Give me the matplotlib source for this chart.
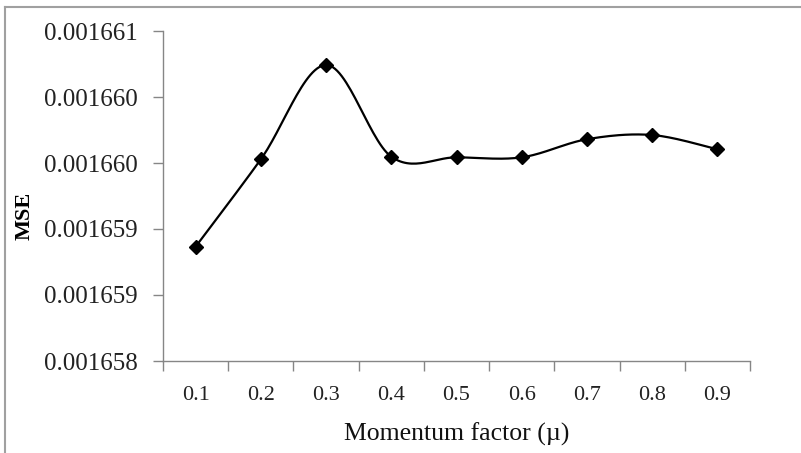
import numpy as np
import matplotlib
matplotlib.use("Agg")
import matplotlib.pyplot as plt
from matplotlib.lines import Line2D

# data
momentum = ["0.1", "0.2", "0.3", "0.4", "0.5", "0.6", "0.7", "0.8", "0.9"]
mse = [0.0016588660, 0.0016595280, 0.0016602424, 0.0016595480, 0.0016595430,
       0.0016595430, 0.0016596800, 0.0016597120, 0.0016596040]
y_ticks = [0.0016580, 0.0016585, 0.0016590, 0.0016595, 0.0016600, 0.0016605]
y_tick_labels = ["0.001658", "0.001659", "0.001659", "0.001660", "0.001660", "0.001661"]

AXIS_GREY = "#868686"
SERIF = "Liberation Serif"


def catmull_rom(px, py, steps=30):
    """Excel style smoothing: bezier segments with control points from neighbours."""
    pts = np.column_stack([px, py])
    out = [pts[0]]
    n = len(pts)
    for i in range(n - 1):
        p0 = pts[max(i - 1, 0)]
        p1 = pts[i]
        p2 = pts[i + 1]
        p3 = pts[min(i + 2, n - 1)]
        c1 = p1 + (p2 - p0) / 6.0
        c2 = p2 - (p3 - p1) / 6.0
        t = np.linspace(0, 1, steps)[1:, None]
        seg = ((1 - t) ** 3) * p1 + 3 * ((1 - t) ** 2) * t * c1 + 3 * (1 - t) * t ** 2 * c2 + t ** 3 * p2
        out.extend(seg)
    return np.array(out)


def main():
    fig = plt.figure(figsize=(8.01, 4.53), dpi=100)
    ax = fig.add_axes([163 / 801, 1 - 361 / 453, (750 - 163) / 801, (361 - 31) / 453])

    x = np.arange(len(momentum))
    ax.set_xlim(-0.5, len(momentum) - 0.5)
    ax.set_ylim(y_ticks[0], y_ticks[-1])

    # smooth the line in display space, then map back to data
    disp = ax.transData.transform(np.column_stack([x, mse]))
    curve = catmull_rom(disp[:, 0], disp[:, 1])
    curve = ax.transData.inverted().transform(curve)
    ax.plot(curve[:, 0], curve[:, 1], color="black", lw=1.6, solid_capstyle="round")
    ax.plot(x, mse, ls="none", marker="D", ms=7.5, color="black")

    for side in ("top", "right"):
        ax.spines[side].set_visible(False)
    for side in ("left", "bottom"):
        ax.spines[side].set_color(AXIS_GREY)
        ax.spines[side].set_linewidth(1.0)

    # x: tick marks between categories, labels at the centres
    ax.set_xticks(np.arange(-0.5, len(momentum), 1.0))
    ax.set_xticklabels([])
    ax.set_xticks(x, minor=True)
    ax.set_xticklabels(momentum, minor=True, fontfamily=SERIF, fontsize=16, color="#222222")
    ax.tick_params(axis="x", which="major", length=7, color=AXIS_GREY, width=1.0)
    ax.tick_params(axis="x", which="minor", length=0, pad=18)

    ax.set_yticks(y_ticks)
    ax.set_yticklabels(y_tick_labels, fontfamily=SERIF, fontsize=18, color="#222222")
    ax.tick_params(axis="y", length=7, color=AXIS_GREY, width=1.0, pad=11)

    ax.set_xlabel("Momentum factor (\u00b5)", fontfamily=SERIF, fontsize=18.5, labelpad=13, color="#111111")
    fig.text(25 / 801, 1 - 216 / 453, "MSE", rotation=90, fontfamily=SERIF, fontsize=16,
             fontweight="bold", ha="center", va="center")

    # chart area border (left and top edges are visible)
    fig.add_artist(Line2D([5 / 801, 5 / 801], [0, 1 - 7 / 453], transform=fig.transFigure,
                          color="#a0a0a0", lw=1.5))
    fig.add_artist(Line2D([5 / 801, 1], [1 - 7 / 453, 1 - 7 / 453], transform=fig.transFigure,
                          color="#a0a0a0", lw=1.5))

    fig.savefig("out.png", dpi=100, facecolor="white")


if __name__ == "__main__":
    main()
